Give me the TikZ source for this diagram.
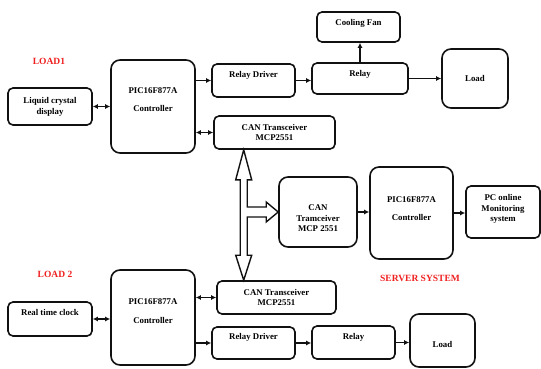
\documentclass[tikz,border=0pt]{standalone}
\usepackage{fontspec}
\setmainfont{Liberation Serif}
\usetikzlibrary{arrows.meta,calc}
\definecolor{ink}{HTML}{111111}
\definecolor{tagred}{HTML}{F02020}
\tikzset{
  box/.style={draw=ink, line width=1.6pt, rounded corners=5pt, align=center,
              fill=white, inner sep=2pt,
              font=\fontsize{8.8}{10.8}\selectfont\bfseries},
  bigbox/.style={box, rounded corners=9pt},
  up/.style={text height=6pt, text depth=#1},
  flow/.style={-{Latex[length=5pt,width=5pt]}, line width=1.4pt, draw=ink},
  biflow/.style={{Latex[length=5pt,width=5pt]}-{Latex[length=5pt,width=5pt]},
                 line width=1.4pt, draw=ink},
  hollow/.style={draw=ink, line width=1.4pt, fill=white, line join=miter},
  tag/.style={text=tagred, font=\fontsize{9.5}{11}\selectfont\bfseries},
}
\begin{document}
\begin{tikzpicture}[x=1pt, y=-1pt]
  \useasboundingbox (0,0) rectangle (541,369);

  % ---------------------------------------------------------- load 1
  \node[tag] (load1tag) at (49,61) {LOAD1};
  \node[box, minimum width=84pt, minimum height=37pt] (lcd) at (50,106.5)
    {Liquid crystal\\display};
  \node[bigbox, minimum width=84pt, minimum height=93pt, text depth=14pt] (pic1)
    at (153,106.5) {PIC16F877A\\[8pt]Controller};
  \node[box, up=11.4pt, minimum width=83pt, minimum height=33pt] (rd1)
    at (253.5,80.5) {Relay Driver};
  \node[box, minimum width=121pt, minimum height=33pt] (can1) at (274.5,132.5)
    {CAN Transceiver\\MCP2551};
  \node[box, up=9.4pt, minimum width=96pt, minimum height=31pt] (relay1)
    at (360,78.5) {Relay};
  \node[box, up=8.4pt, minimum width=83pt, minimum height=30pt] (fan)
    at (358.5,27) {Cooling Fan};
  \node[bigbox, minimum width=66pt, minimum height=59pt] (load1) at (475,78.5) {Load};

  \draw[biflow] (lcd.east) -- (lcd.east -| pic1.west);
  \draw[flow] (rd1.west -| pic1.east) -- (rd1.west);
  \draw[biflow] (can1.west -| pic1.east) -- (can1.west);
  \draw[flow] (rd1.east) -- (rd1.east -| relay1.west);
  \draw[flow] (relay1.north) -- (relay1.north |- fan.south);
  \draw[flow] (relay1.east) -- (relay1.east -| load1.west);

  % ---------------------------------------------------------- server
  \node[bigbox, minimum width=78pt, minimum height=70pt, text height=40pt] (cans)
    at (318,212) {CAN\\Tramceiver\\MCP 2551};
  \node[bigbox, minimum width=83pt, minimum height=92pt, text depth=9pt] (pics)
    at (411.5,213) {PIC16F877A\\[8pt]Controller};
  \node[box, minimum width=74pt, minimum height=52pt, text depth=8pt] (pc)
    at (503,212) {PC online\\Monitoring\\system};
  \node[tag] (servertag) at (420,278) {SERVER SYSTEM};

  \draw[flow] (cans.east) -- (cans.east -| pics.west);
  \draw[flow] (pics.east) -- (pics.east -| pc.west);

  % ---------------------------------------------------------- load 2
  \node[tag] (load2tag) at (55,274) {LOAD 2};
  \node[box, up=12.4pt, minimum width=84pt, minimum height=34pt] (rtc) at (50,319)
    {Real time clock};
  \node[bigbox, minimum width=84pt, minimum height=95pt, text depth=13pt] (pic2)
    at (153,317.5) {PIC16F877A\\[8pt]Controller};
  \node[box, minimum width=119pt, minimum height=33pt] (can2) at (276.5,297.5)
    {CAN Transceiver\\MCP2551};
  \node[box, up=12.4pt, minimum width=83pt, minimum height=32pt] (rd2)
    at (253.5,343) {Relay Driver};
  \node[box, up=11.4pt, minimum width=83pt, minimum height=33pt] (relay2)
    at (353.5,342.5) {Relay};
  \node[bigbox, text height=14.5pt, minimum width=65pt, minimum height=53pt] (load2)
    at (442.5,340.5) {Load};

  \draw[biflow] (rtc.east) -- (rtc.east -| pic2.west);
  \draw[biflow] (can2.west -| pic2.east) -- (can2.west);
  \draw[flow] (rd2.west -| pic2.east) -- (rd2.west);
  \draw[flow] (rd2.east) -- (rd2.east -| relay2.west);
  \draw[flow] (relay2.east) -- (relay2.east -| load2.west);

  % ---------------------------------------------------------- CAN bus
  \coordinate (bt) at ([xshift=30.5pt]can1.south west);
  \coordinate (bb) at (bt |- can2.north);
  \coordinate (br) at (cans.west);
  \draw[hollow] (bt) -- ++(8,30) -- ++(-4.5,0) |- ($(br)+(-12,-5)$) -- ++(0,-5)
    -- (br) -- ++(-12,10) -- ++(0,-5) -| ($(bb)+(3.5,-25)$) -- ++(4.5,0)
    -- (bb) -- ++(-8,-25) -- ++(4.5,0) |- ($(bt)+(-8,30)$) -- cycle;
\end{tikzpicture}
\end{document}
